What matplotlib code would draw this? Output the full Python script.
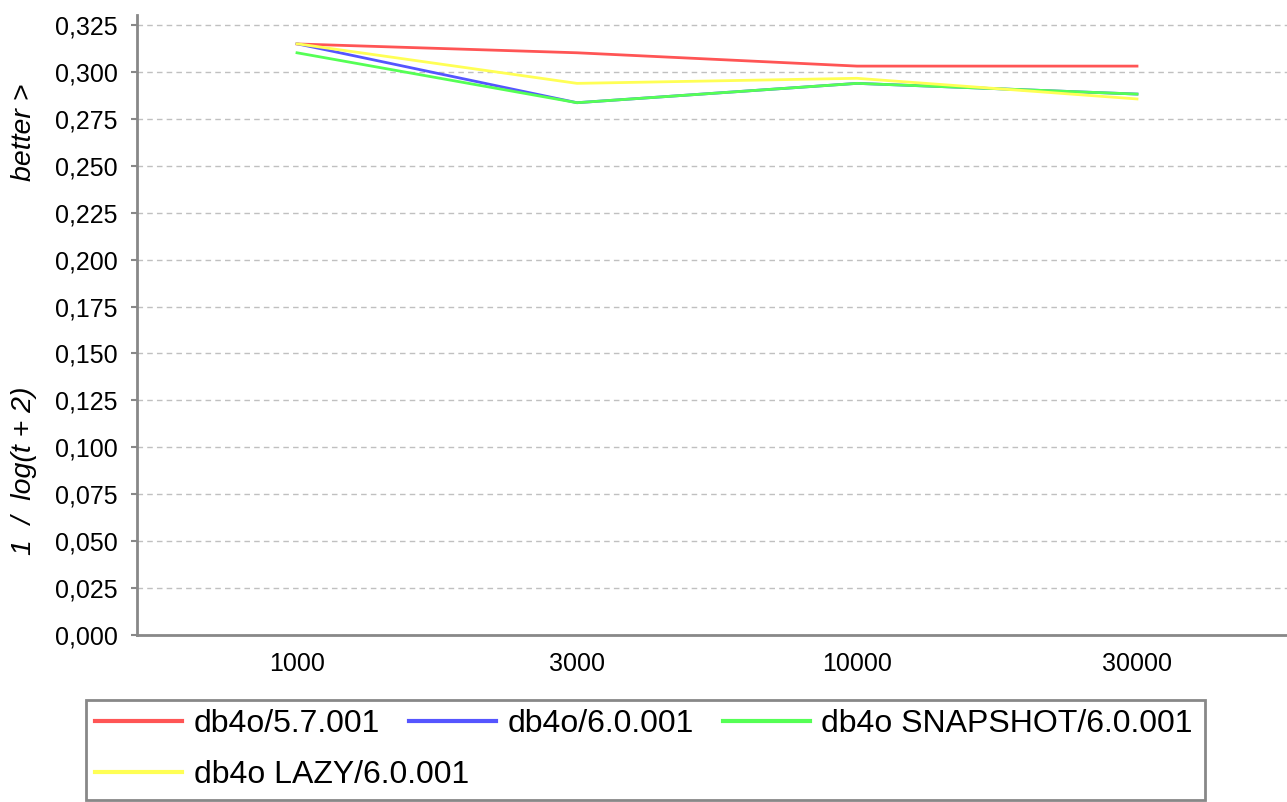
import numpy as np
import matplotlib.pyplot as plt
from matplotlib.patches import Rectangle

plt.rcParams['font.family'] = ['Liberation Sans', 'DejaVu Sans']

# data
sizes = ['1000', '3000', '10000', '30000']
v570 = [0.3149, 0.3102, 0.3031, 0.3031]
v600 = [0.3150, 0.2836, 0.2939, 0.2882]
v600_snapshot = [0.3102, 0.2836, 0.2939, 0.2882]
v600_lazy = [0.3150, 0.2939, 0.2966, 0.2856]

series = [
    ('db4o/5.7.001', v570, '#ff5555'),
    ('db4o/6.0.001', v600, '#5555ff'),
    ('db4o SNAPSHOT/6.0.001', v600_snapshot, '#55ff55'),
    ('db4o LAZY/6.0.001', v600_lazy, '#ffff55'),
]

W, H = 1287, 802
fig = plt.figure(figsize=(W / 100, H / 100), dpi=100)
ax = fig.add_axes([137 / W, 167 / H, 1 - 137 / W, (635 - 15) / H])

x = np.arange(len(sizes))
lines = []
for label, vals, color in series:
    ln, = ax.plot(x, vals, color=color, lw=2, label=label)
    lines.append(ln)

ax.set_xlim(-160 / 280, (W - 297) / 280)
ax.set_ylim(0, 0.325 * 620 / 610)
ax.set_xticks(x)
ax.set_xticklabels(sizes)
yt = np.arange(0, 0.326, 0.025)
ax.set_yticks(yt)
ax.set_yticklabels([f'{v:.3f}'.replace('.', ',') for v in yt])
ax.tick_params(axis='x', length=0, labelsize=18, pad=12)
ax.tick_params(axis='y', length=4, width=1.5, color='#888888', labelsize=18, pad=10)
ax.grid(axis='y', color='#c0c0c0', ls=(0, (4, 3)), lw=1)
ax.set_axisbelow(True)
for s in ['top', 'right']:
    ax.spines[s].set_visible(False)
for s in ['left', 'bottom']:
    ax.spines[s].set_color('#888888')
    ax.spines[s].set_linewidth(2)

# y axis title in two parts
fig.text(24 / W, 1 - 132 / H, 'better >', rotation=90, fontsize=20.5,
         style='italic', ha='center', va='center')
fig.text(24 / W, 1 - 471 / H, '1  /  log(t + 2)', rotation=90, fontsize=20.5,
         style='italic', ha='center', va='center')

# legend box: entries flow row by row
fig.patches.append(Rectangle((86 / W, 1 - 800 / H), (1205 - 86) / W, 100 / H,
                             transform=fig.transFigure, fill=False,
                             edgecolor='#888888', lw=2))
kw = dict(loc='center left', fontsize=23, frameon=False, handlelength=2.72,
          handletextpad=0.37, columnspacing=0.9, borderpad=0, borderaxespad=0)
leg1 = fig.legend(lines[:3], [s[0] for s in series[:3]], ncol=3,
                  bbox_to_anchor=(95 / W, 1 - 724 / H), **kw)
leg2 = fig.legend(lines[3:], [series[3][0]], ncol=1,
                  bbox_to_anchor=(95 / W, 1 - 775 / H), **kw)
for leg in (leg1, leg2):
    for h in leg.get_lines():
        h.set_linewidth(3)

fig.savefig('out.png', dpi=100)
